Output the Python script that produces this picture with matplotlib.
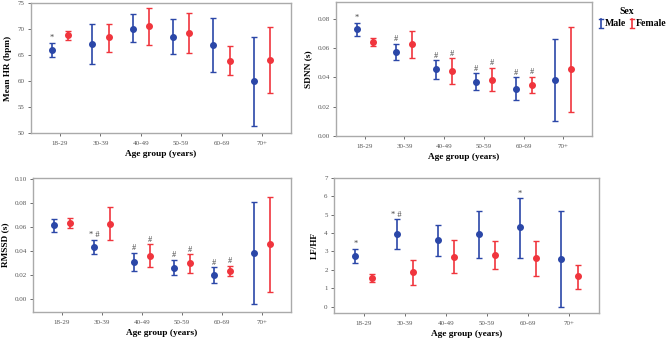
import numpy as np
import matplotlib.pyplot as plt
from matplotlib.lines import Line2D

plt.rcParams['font.family'] = ['Liberation Serif', 'DejaVu Serif']

groups = ['18-29', '30-39', '40-49', '50-59', '60-69', '70+']

# Mean HR (bpm)
hr_m = [66.0, 67.2, 70.0, 68.5, 66.9, 60.0]
hr_m_lo = [64.7, 63.3, 67.5, 65.1, 61.7, 51.4]
hr_m_hi = [67.4, 71.0, 72.8, 72.0, 72.2, 68.5]
hr_f = [68.9, 68.4, 70.5, 69.2, 63.9, 64.0]
hr_f_lo = [67.9, 65.6, 66.9, 65.3, 61.1, 57.7]
hr_f_hi = [69.7, 71.0, 74.1, 73.0, 66.7, 70.3]
hr_m_marks = ['*', '', '', '', '', '']
hr_f_marks = ['', '', '', '', '', '']

# SDNN (s)
sdnn_m = [0.0730, 0.0573, 0.0457, 0.0370, 0.0323, 0.0382]
sdnn_m_lo = [0.0684, 0.0518, 0.0391, 0.0314, 0.0243, 0.0100]
sdnn_m_hi = [0.0775, 0.0630, 0.0520, 0.0430, 0.0400, 0.0661]
sdnn_f = [0.0643, 0.0632, 0.0445, 0.0386, 0.0350, 0.0455]
sdnn_f_lo = [0.0616, 0.0536, 0.0357, 0.0307, 0.0295, 0.0161]
sdnn_f_hi = [0.0673, 0.0718, 0.0530, 0.0466, 0.0405, 0.0748]
sdnn_m_marks = ['*', '#', '#', '#', '#', '']
sdnn_f_marks = ['', '', '#', '#', '#', '']

# RMSSD (s)
rmssd_m = [0.0612, 0.0433, 0.0310, 0.0260, 0.0198, 0.0380]
rmssd_m_lo = [0.0559, 0.0372, 0.0232, 0.0196, 0.0128, -0.0042]
rmssd_m_hi = [0.0665, 0.0492, 0.0385, 0.0324, 0.0265, 0.0802]
rmssd_f = [0.0631, 0.0626, 0.0360, 0.0296, 0.0235, 0.0453]
rmssd_f_lo = [0.0592, 0.0492, 0.0268, 0.0218, 0.0193, 0.0053]
rmssd_f_hi = [0.0670, 0.0760, 0.0453, 0.0372, 0.0274, 0.0849]
rmssd_m_marks = ['', '* #', '#', '#', '#', '']
rmssd_f_marks = ['', '', '#', '#', '#', '']

# LF/HF
lfhf_m = [2.76, 3.95, 3.60, 3.95, 4.31, 2.60]
lfhf_m_lo = [2.36, 3.13, 2.73, 2.65, 2.65, 0.0]
lfhf_m_hi = [3.15, 4.76, 4.44, 5.22, 5.91, 5.20]
lfhf_f = [1.55, 1.89, 2.71, 2.80, 2.62, 1.64]
lfhf_f_lo = [1.35, 1.16, 1.82, 2.07, 1.67, 0.95]
lfhf_f_hi = [1.75, 2.55, 3.62, 3.55, 3.55, 2.29]
lfhf_m_marks = ['*', '* #', '', '', '*', '']
lfhf_f_marks = ['', '', '', '', '', '']

blue = '#2B47A8'
red = '#F0353D'
grey = '#555555'


def panel(ax, m, m_lo, m_hi, f, f_lo, f_hi, m_marks, f_marks, ylabel, ylim, yticks, fmt):
    x = np.arange(len(groups))
    for off, mean, lo, hi, col, marks in [(-0.2, m, m_lo, m_hi, blue, m_marks),
                                          (0.2, f, f_lo, f_hi, red, f_marks)]:
        mean = np.array(mean)
        err = [mean - np.array(lo), np.array(hi) - mean]
        ax.errorbar(x + off, mean, yerr=err, fmt='o', color=col, ms=4,
                    elinewidth=1.2, capsize=2.3, capthick=1.0)
        for i, s in enumerate(marks):
            if s:
                ax.annotate(s, (x[i] + off, hi[i]), xytext=(0, 0.3),
                            textcoords='offset points', ha='center', va='bottom',
                            fontsize=6, color='#444444')
    ax.set_xlim(-0.72, 5.72)
    ax.set_ylim(*ylim)
    ax.set_yticks(yticks)
    ax.set_yticklabels([fmt.format(v) for v in yticks])
    ax.set_xticks(x)
    ax.set_xticklabels(groups)
    ax.tick_params(labelsize=5, colors=grey, length=2, width=0.6, pad=2.5)
    ax.tick_params(axis='x', pad=3.5)
    for sp in ax.spines.values():
        sp.set_color('#aaaaaa')
        sp.set_linewidth(1.0)
    ax.set_xlabel('Age group (years)', fontsize=6.7, fontweight='bold', labelpad=3)
    ax.set_ylabel(ylabel, fontsize=6.7, fontweight='bold', labelpad=4)


fig = plt.figure(figsize=(6.69, 3.41), dpi=100)
W, H = 669.0, 341.0
ax1 = fig.add_axes([31 / W, (H - 133) / H, 260 / W, 130 / H])
ax2 = fig.add_axes([336 / W, (H - 136) / H, 256 / W, 134 / H])
ax3 = fig.add_axes([33 / W, (H - 312) / H, 258 / W, 134 / H])
ax4 = fig.add_axes([334 / W, (H - 313) / H, 265 / W, 135 / H])

panel(ax1, hr_m, hr_m_lo, hr_m_hi, hr_f, hr_f_lo, hr_f_hi, hr_m_marks, hr_f_marks,
      'Mean HR (bpm)', (50, 75), [50, 55, 60, 65, 70, 75], '{:.0f}')
panel(ax2, sdnn_m, sdnn_m_lo, sdnn_m_hi, sdnn_f, sdnn_f_lo, sdnn_f_hi, sdnn_m_marks, sdnn_f_marks,
      'SDNN (s)', (0, 0.0916), [0, 0.02, 0.04, 0.06, 0.08], '{:.2f}')
panel(ax3, rmssd_m, rmssd_m_lo, rmssd_m_hi, rmssd_f, rmssd_f_lo, rmssd_f_hi, rmssd_m_marks, rmssd_f_marks,
      'RMSSD (s)', (-0.011, 0.1005), [0, 0.02, 0.04, 0.06, 0.08, 0.10], '{:.2f}')
panel(ax4, lfhf_m, lfhf_m_lo, lfhf_m_hi, lfhf_f, lfhf_f_lo, lfhf_f_hi, lfhf_m_marks, lfhf_f_marks,
      'LF/HF', (-0.35, 7.0), [0, 1, 2, 3, 4, 5, 6, 7], '{:.0f}')


# legend drawn by hand: errorbar-style "I" icons
def icon(xc, yc, col):
    x0, y0 = xc / W, 1 - yc / H
    h, c = 4.5 / H, 2.2 / W
    fig.add_artist(Line2D([x0, x0], [y0 - h, y0 + h], color=col, lw=1.2))
    for yy in (y0 - h, y0 + h):
        fig.add_artist(Line2D([x0 - c, x0 + c], [yy, yy], color=col, lw=1.0))


fig.text(627 / W, 1 - 12 / H, 'Sex', ha='center', va='center', fontsize=7, fontweight='bold')
icon(601, 23.5, blue)
fig.text(605 / W, 1 - 23.5 / H, 'Male', ha='left', va='center', fontsize=7, fontweight='bold')
icon(632, 23.5, red)
fig.text(636 / W, 1 - 23.5 / H, 'Female', ha='left', va='center', fontsize=7, fontweight='bold')

fig.savefig('out.png', dpi=100)
